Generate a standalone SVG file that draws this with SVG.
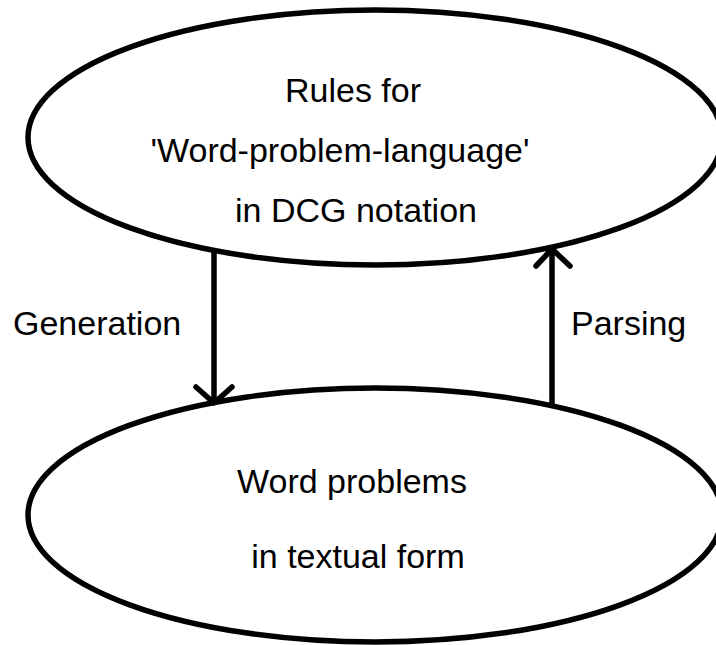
<svg xmlns="http://www.w3.org/2000/svg" width="716" height="645" viewBox="0 0 716 645">
  <style>
    .node { fill: #ffffff; stroke: #000000; stroke-width: 5.5; }
    .label { font-family: "Liberation Sans", Arial, sans-serif; font-size: 34px; fill: #000000; }
    .edge { fill: none; stroke: #000000; stroke-width: 5.5; }
    .head { fill: none; stroke: #000000; stroke-width: 5.5; stroke-linecap: round; stroke-linejoin: round; }
  </style>
  <rect width="716" height="645" fill="#ffffff"/>

  <g id="rules">
    <ellipse class="node" cx="375" cy="137.5" rx="347" ry="127.5"/>
    <text class="label" x="353" y="102" text-anchor="middle">Rules for</text>
    <text class="label" x="340" y="162" text-anchor="middle">'Word-problem-language'</text>
    <text class="label" x="356" y="222" text-anchor="middle">in DCG notation</text>
  </g>

  <g id="problems">
    <ellipse class="node" cx="375" cy="515" rx="347" ry="127"/>
    <text class="label" x="352" y="493" text-anchor="middle">Word problems</text>
    <text class="label" x="358" y="568" text-anchor="middle">in textual form</text>
  </g>

  <g id="connectors">
    <!-- Generation: rules down to word problems -->
    <line class="edge" x1="214" y1="251" x2="214" y2="401"/>
    <polyline class="head" points="196,387 214,403 232,387"/>
    <text class="label" x="13" y="335">Generation</text>
    <!-- Parsing: word problems up to rules -->
    <line class="edge" x1="552" y1="406" x2="552" y2="250"/>
    <polyline class="head" points="536,266 552,249 570,266"/>
    <text class="label" x="571" y="335">Parsing</text>
  </g>
</svg>
